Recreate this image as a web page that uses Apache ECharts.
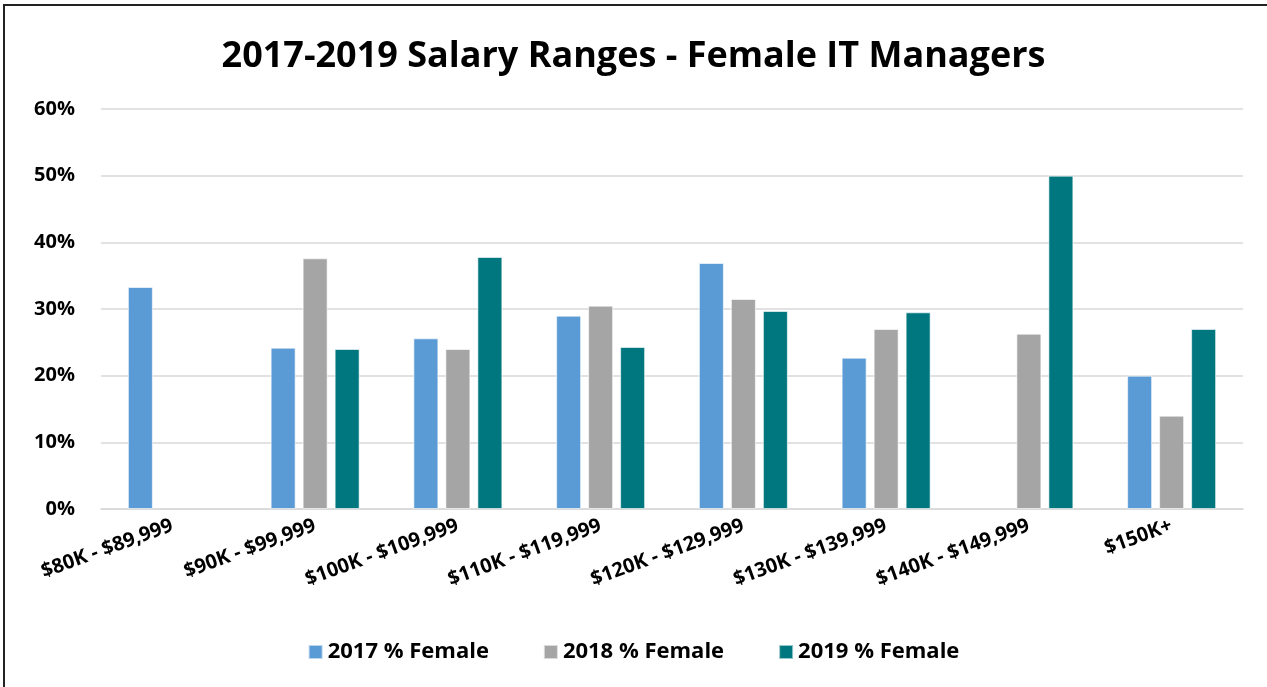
<!DOCTYPE html>
<html><head><meta charset="utf-8">
<script src="https://cdn.jsdelivr.net/npm/echarts@6/dist/echarts.min.js"></script>
<style>html,body{margin:0;padding:0;background:#fff}#c{width:1267px;height:687px}</style>
</head><body><div id="c"></div>
<script>
const categories = ['$80K - $89,999','$90K - $99,999','$100K - $109,999','$110K - $119,999','$120K - $129,999','$130K - $139,999','$140K - $149,999','$150K+'];
const s2017 = [33.3, 24.2, 25.6, 29.0, 36.9, 22.7, null, 20.0];
const s2018 = [null, 37.6, 24.0, 30.5, 31.5, 27.0, 26.3, 14.0];
const s2019 = [null, 24.0, 37.8, 24.3, 29.7, 29.5, 50.0, 27.0];
const seriesNames = ['2017 % Female','2018 % Female','2019 % Female'];
const colors = ['#5B9BD5','#A5A5A5','#00777F'];
const FONT = '"Open Sans", sans-serif';
const chart = echarts.init(document.getElementById('c'));
const mk = (name, data, color) => ({
  name, type: 'bar', data, barWidth: 25, barGap: '28%',
  itemStyle: { color, borderColor: 'rgba(255,255,255,0.6)', borderWidth: 1 }
});
chart.setOption({
  animation: false,
  graphic: [{ type: 'rect', shape: { x: 4, y: 5, width: 1300, height: 720 }, style: { fill: 'none', stroke: '#222', lineWidth: 2 }, silent: true }],
  title: { text: '2017-2019 Salary Ranges - Female IT Managers', left: 'center', top: 34,
    textStyle: { fontFamily: FONT, fontWeight: 'bold', fontSize: 36, color: '#000' } },
  legend: { bottom: 19, left: 'center', itemWidth: 14, itemHeight: 14, itemGap: 54, icon: 'rect',
    textStyle: { fontFamily: FONT, fontWeight: 'bold', fontSize: 22, color: '#000' } },
  grid: { left: 101, right: 24, top: 109, bottom: 178, containLabel: false },
  xAxis: { type: 'category', data: categories,
    axisLine: { lineStyle: { color: '#D9D9D9', width: 1.5 } }, axisTick: { show: false },
    axisLabel: { rotate: 20, interval: 0, margin: 16, fontFamily: FONT, fontWeight: 'bold', fontSize: 20, color: '#000' } },
  yAxis: { type: 'value', min: 0, max: 60, interval: 10,
    axisLine: { show: false }, axisTick: { show: false },
    splitLine: { lineStyle: { color: '#D9D9D9', width: 1.5 } },
    axisLabel: { formatter: v => v + '%', margin: 26, fontFamily: FONT, fontWeight: 'bold', fontSize: 20, color: '#000' } },
  series: [mk(seriesNames[0], s2017, colors[0]), mk(seriesNames[1], s2018, colors[1]), mk(seriesNames[2], s2019, colors[2])]
});
</script></body></html>
